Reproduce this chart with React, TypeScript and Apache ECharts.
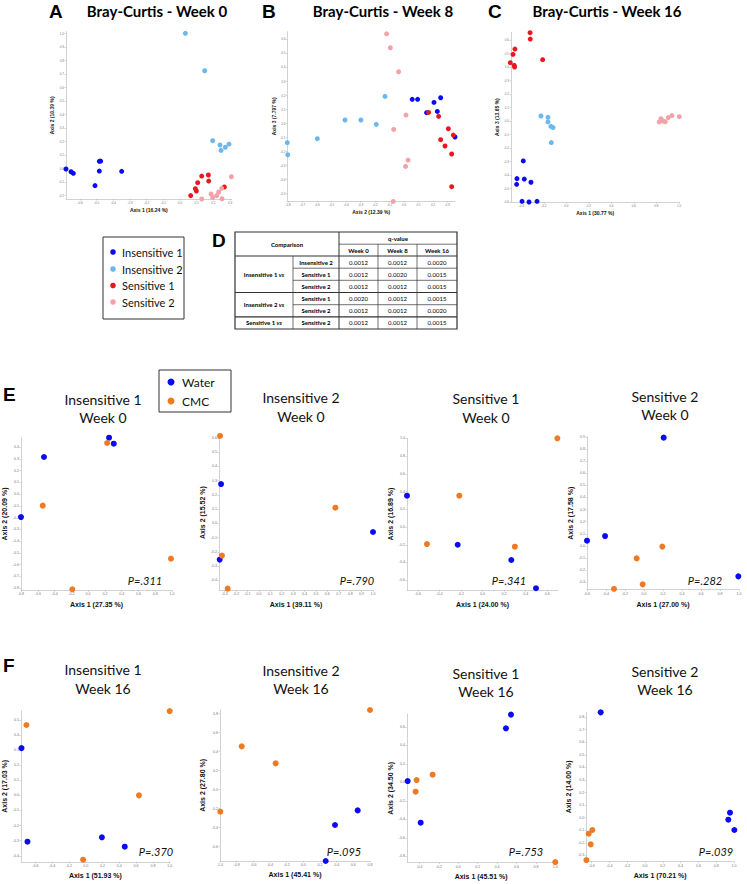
import React, { useEffect, useRef } from "react";
import * as echarts from "echarts";

// ---------- Data: panel A (Bray-Curtis Week 0) ----------
const aIns1 = [[-0.684, -0.005], [-0.654, -0.025], [-0.64, -0.037], [-0.484, 0.052], [-0.476, 0.054], [-0.484, -0.02], [-0.35, -0.022], [-0.51, -0.128]];
const aIns2 = [[0.032, 1.0], [0.148, 0.723], [0.196, 0.205], [0.24, 0.173], [0.246, 0.133], [0.272, 0.156], [0.294, 0.18]];
const aSen1 = [[0.064, -0.202], [0.092, -0.151], [0.098, -0.168], [0.106, -0.106], [0.13, -0.057], [0.17, -0.049], [0.172, -0.094], [0.266, -0.138]];
const aSen2 = [[0.13, -0.227], [0.186, -0.19], [0.196, -0.215], [0.22, -0.202], [0.232, -0.175], [0.25, -0.148], [0.252, -0.225], [0.308, -0.062]];
// ---------- Panel B (Week 8) ----------
const bIns1 = [[0.057, 0.171], [0.094, 0.171], [0.207, 0.149], [0.253, 0.182], [0.23, 0.085], [0.156, 0.076], [0.352, -0.097]];
const bIns2 = [[-0.131, 0.192], [-0.407, 0.024], [-0.297, 0.024], [-0.191, -0.007], [-0.598, -0.109], [-0.805, -0.137], [-0.802, -0.223]];
const bSen1 = [[0.17, 0.078], [0.239, 0.05], [0.306, -0.038], [0.34, -0.083], [0.253, -0.116], [0.283, -0.161], [0.329, -0.218], [0.329, -0.45]];
const bSen2 = [[-0.12, 0.637], [-0.094, 0.538], [-0.037, 0.367], [0.014, 0.059], [-0.071, -0.043], [0.028, -0.261], [0.011, -0.306], [-0.074, -0.555]];
// ---------- Panel C (Week 16) ----------
const cIns1 = [[-0.382, -0.296], [-0.438, -0.427], [-0.373, -0.43], [-0.441, -0.469], [-0.314, -0.454], [-0.393, -0.595], [-0.331, -0.6], [-0.26, -0.595]];
const cIns2 = [[-0.225, 0.037], [-0.163, 0.027], [-0.163, -0.007], [-0.136, -0.04], [-0.118, -0.049], [-0.133, -0.16]];
const cSen1 = [[-0.322, 0.654], [-0.32, 0.607], [-0.456, 0.533], [-0.473, 0.494], [-0.497, 0.432], [-0.462, 0.412], [-0.459, 0.4], [-0.21, 0.454]];
const cSen2 = [[0.825, -0.007], [0.84, 0.017], [0.858, 0.0], [0.879, -0.005], [0.905, 0.025], [0.938, 0.04], [1.003, 0.032]];
// ---------- Panel E (Week 0, Water vs CMC) ----------
const e1Water = [[-0.8, -0.196], [-0.526, 0.315], [0.25, 0.479], [0.306, 0.428]];
const e1Cmc = [[0.227, 0.434], [-0.541, -0.099], [0.988, -0.55], [-0.188, -0.811]];
const e2Water = [[-0.332, 0.276], [-0.344, -0.255], [1.0, -0.061]];
const e2Cmc = [[-0.341, 0.614], [-0.324, -0.227], [-0.274, -0.459], [0.67, 0.11]];
const e3Water = [[-0.7, 0.353], [-0.23, -0.2], [0.267, -0.372], [0.496, -0.69]];
const e3Cmc = [[-0.215, 0.353], [-0.515, -0.192], [0.3, -0.222], [0.694, 1.0]];
const e4Water = [[0.207, 0.893], [-0.6, 0.044], [-0.41, 0.082], [0.993, -0.25]];
const e4Cmc = [[0.193, -0.005], [-0.077, -0.102], [-0.014, -0.316], [-0.316, -0.354]];
// ---------- Panel F (Week 16, Water vs CMC) ----------
const f1Water = [[-0.764, 0.313], [-0.693, -0.307], [0.193, -0.278], [0.465, -0.34]];
const f1Cmc = [[1.0, 0.558], [-0.705, 0.466], [0.634, 0.0], [-0.031, -0.426]];
const f2Water = [[0.268, -0.751], [0.38, -0.372], [0.652, -0.218]];
const f2Cmc = [[-0.996, -0.232], [-0.74, 0.456], [-0.332, 0.277], [0.8, 0.839]];
const f3Water = [[0.543, 0.733], [0.491, 0.585], [-0.522, 0.014], [-0.388, -0.437]];
const f3Cmc = [[-0.265, 0.083], [-0.43, 0.025], [-0.44, -0.101], [1.0, -0.863]];
const f4Water = [[-0.498, 0.838], [0.955, 0.04], [0.936, -0.016], [1.004, -0.098]];
const f4Cmc = [[-0.592, -0.098], [-0.633, -0.127], [-0.61, -0.212], [-0.659, -0.337]];

// ---------- Texts ----------
const groupNames = ["Insensitive 1", "Insensitive 2", "Sensitive 1", "Sensitive 2"];
const dietNames = ["Water", "CMC"];
const panelLetters = ["A", "B", "C", "D", "E", "F"];
const topTitles = ["Bray-Curtis - Week 0", "Bray-Curtis - Week 8", "Bray-Curtis - Week 16"];
const topXNames = ["Axis 1 (16.24 %)", "Axis 2 (12.39 %)", "Axis 1 (30.77 %)"];
const topYNames = ["Axis 2 (10.39 %)", "Axis 3 (7.797 %)", "Axis 3 (13.65 %)"];
const eTitles = ["Insensitive 1", "Insensitive 2", "Sensitive 1", "Sensitive 2"];
const eWeek = "Week 0";
const fWeek = "Week 16";
const eXNames = ["Axis 1 (27.35 %)", "Axis 1 (39.11 %)", "Axis 1 (24.00 %)", "Axis 1 (27.00 %)"];
const eYNames = ["Axis 2 (20.09 %)", "Axis 2 (15.52 %)", "Axis 2 (16.89 %)", "Axis 2 (17.58 %)"];
const ePValues = ["P=.311", "P=.790", "P=.341", "P=.282"];
const fXNames = ["Axis 1 (51.93 %)", "Axis 1 (45.41 %)", "Axis 1 (45.51 %)", "Axis 1 (70.21 %)"];
const fYNames = ["Axis 2 (17.03 %)", "Axis 2 (27.80 %)", "Axis 2 (34.50 %)", "Axis 2 (14.00 %)"];
const fPValues = ["P=.370", "P=.095", "P=.753", "P=.039"];
// ---------- Table D ----------
const tableWeeks = ["Week 0", "Week 8", "Week 16"];
const tableFrom = ["Insensitive 1", "Insensitive 2", "Sensitive 1"];
const tableTo = ["Insensitive 2", "Sensitive 1", "Sensitive 2", "Sensitive 1", "Sensitive 2", "Sensitive 2"];
const qWeek0 = ["0.0012", "0.0012", "0.0012", "0.0020", "0.0012", "0.0012"];
const qWeek8 = ["0.0012", "0.0020", "0.0012", "0.0012", "0.0012", "0.0012"];
const qWeek16 = ["0.0020", "0.0015", "0.0015", "0.0015", "0.0020", "0.0015"];

// ---------- Styles / layout ----------
const GROUP_COLORS = ["#0a0af5", "#6cb8ee", "#e8181e", "#f2a2a8"];
const DIET_COLORS = ["#0a0af5", "#ee7a24"];
const FONT = "Lato, 'Open Sans', sans-serif";
const AX_FONT = "Arial, 'Liberation Sans', sans-serif";

type Lay = { l: number; t: number; r: number; b: number; x: number[]; y: number[]; xGap: number; yGap: number; small: boolean };

const topLayouts: Lay[] = [
  { l: 66, t: 31.7, r: 231.7, b: 199, x: [-0.684, 0.31, 0.1], y: [-0.227, 1.012, 0.1], xGap: 8, yGap: 9, small: true },
  { l: 287.3, t: 31.7, r: 455, b: 201, x: [-0.805, 0.352, 0.1], y: [-0.552, 0.652, 0.1], xGap: 8, yGap: 7, small: true },
  { l: 511, t: 32.3, r: 679.3, b: 202, x: [-0.491, 1.003, 0.2], y: [-0.6, 0.657, 0.1], xGap: 8, yGap: 11, small: true },
];
const eLayouts: Lay[] = [
  { l: 19, t: 437.6, r: 172, b: 590.4, x: [-0.8, 1.0, 0.2], y: [-0.82, 0.48, 0.1], xGap: 11, yGap: 13, small: false },
  { l: 219, t: 435.1, r: 373, b: 590.2, x: [-0.35, 1.0, 0.1], y: [-0.47, 0.62, 0.1], xGap: 11, yGap: 13, small: false },
  { l: 407, t: 438.3, r: 558, b: 590, x: [-0.7, 0.7, 0.2], y: [-0.71, 1.0, 0.2], xGap: 11, yGap: 13, small: false },
  { l: 587, t: 436.8, r: 739, b: 589.7, x: [-0.6, 1.0, 0.2], y: [-0.36, 0.9, 0.1], xGap: 11, yGap: 13, small: false },
];
const fLayouts: Lay[] = [
  { l: 19.8, t: 710.8, r: 169.7, b: 861.8, x: [-0.77, 1.0, 0.2], y: [-0.44, 0.56, 0.1], xGap: 10, yGap: 13, small: false },
  { l: 220, t: 709.9, r: 370, b: 860.9, x: [-1.0, 0.8, 0.2], y: [-0.75, 0.84, 0.2], xGap: 10, yGap: 14, small: false },
  { l: 406.9, t: 714, r: 555.3, b: 862.7, x: [-0.53, 1.0, 0.2], y: [-0.87, 0.74, 0.2], xGap: 10, yGap: 13, small: false },
  { l: 586.3, t: 712.1, r: 734, b: 861.7, x: [-0.66, 1.0, 0.2], y: [-0.35, 0.84, 0.1], xGap: 10, yGap: 14, small: false },
];

function isMult(v: number, step: number) {
  const r = v / step;
  return Math.abs(r - Math.round(r)) < 1e-6;
}

function makeAxis(idx: number, lay: Lay, which: "x" | "y", name: string) {
  const [mn, mx, step] = which === "x" ? lay.x : lay.y;
  return {
    gridIndex: idx,
    type: "value",
    min: mn,
    max: mx,
    splitNumber: Math.round((mx - mn) / step),
    name,
    nameLocation: "middle",
    nameGap: which === "x" ? lay.xGap : lay.yGap,
    nameTextStyle: { fontFamily: AX_FONT, fontWeight: "bold", fontSize: lay.small ? 5 : 7, color: "#111" },
    axisLine: { show: true, onZero: false, lineStyle: { color: "#d2d2d2", width: 1 } },
    axisTick: { show: true, length: 1.5, lineStyle: { color: "#aaa", width: 0.5 } },
    axisLabel: {
      show: true,
      fontSize: lay.small ? 3 : 3.6,
      color: "#777",
      margin: 2,
      fontFamily: AX_FONT,
      showMinLabel: isMult(mn, step),
      showMaxLabel: isMult(mx, step),
      formatter: (v: number) => v.toFixed(1),
    },
    splitLine: { show: false },
  };
}

function txt(x: number, y: number, text: string, size: number, opts: any = {}) {
  return {
    type: "text",
    x,
    y,
    silent: true,
    style: {
      text,
      fontSize: size,
      fontFamily: opts.family || FONT,
      fontWeight: opts.weight || "normal",
      fontStyle: opts.style || "normal",
      fill: opts.color || "#111",
      textAlign: opts.align || "center",
      textVerticalAlign: "middle",
      rich: opts.rich,
    },
  };
}
function ln(x1: number, y1: number, x2: number, y2: number, w: number) {
  return { type: "line", silent: true, shape: { x1, y1, x2, y2 }, style: { stroke: "#333", lineWidth: w } };
}
function dot(cx: number, cy: number, r: number, color: string) {
  return { type: "circle", silent: true, shape: { cx, cy, r }, style: { fill: color } };
}

export default function App() {
  const ref = useRef<HTMLDivElement>(null);
  useEffect(() => {
    if (!ref.current) return;
    const chart = echarts.init(ref.current, undefined, { renderer: "svg" });

    const grids: any[] = [];
    const xAxes: any[] = [];
    const yAxes: any[] = [];
    const series: any[] = [];
    const addPanel = (lay: Lay, xName: string, yName: string, sets: number[][][], colors: string[], size: number) => {
      const idx = grids.length;
      grids.push({ left: lay.l, top: lay.t, width: lay.r - lay.l, height: lay.b - lay.t, containLabel: false });
      xAxes.push(makeAxis(idx, lay, "x", xName));
      yAxes.push(makeAxis(idx, lay, "y", yName));
      sets.forEach((d, k) => {
        series.push({
          type: "scatter",
          xAxisIndex: idx,
          yAxisIndex: idx,
          data: d,
          symbolSize: size,
          clip: false,
          silent: true,
          itemStyle: { color: colors[k], opacity: 1 },
        });
      });
    };

    const topSets = [
      [aIns1, aIns2, aSen1, aSen2],
      [bIns1, bIns2, bSen1, bSen2],
      [cIns1, cIns2, cSen1, cSen2],
    ];
    topLayouts.forEach((lay, i) => addPanel(lay, topXNames[i], topYNames[i], topSets[i], GROUP_COLORS, 5));
    const eSets = [[e1Water, e1Cmc], [e2Water, e2Cmc], [e3Water, e3Cmc], [e4Water, e4Cmc]];
    eLayouts.forEach((lay, i) => addPanel(lay, eXNames[i], eYNames[i], eSets[i], DIET_COLORS, 6));
    const fSets = [[f1Water, f1Cmc], [f2Water, f2Cmc], [f3Water, f3Cmc], [f4Water, f4Cmc]];
    fLayouts.forEach((lay, i) => addPanel(lay, fXNames[i], fYNames[i], fSets[i], DIET_COLORS, 6));

    const g: any[] = [];
    // panel letters
    const letterPos = [[49, 11], [262, 11], [488, 11], [212, 240], [3, 394], [3, 665]];
    panelLetters.forEach((L, i) =>
      g.push(txt(letterPos[i][0], letterPos[i][1], L, 19, { family: AX_FONT, weight: "bold", align: "left", color: "#000" }))
    );
    // top titles
    const topCenters = [157, 383, 607];
    topTitles.forEach((t, i) => g.push(txt(topCenters[i], 11, t, 15, { weight: "bold", color: "#000" })));

    // group legend
    g.push({ type: "rect", silent: true, shape: { x: 103, y: 237, width: 81, height: 82 }, style: { fill: "#fff", stroke: "#333", lineWidth: 1 } });
    const legY = [252, 269, 285.5, 302];
    groupNames.forEach((n, i) => {
      g.push(dot(113, legY[i], 2.8, GROUP_COLORS[i]));
      g.push(txt(122, legY[i], n, 11, { align: "left" }));
    });

    // table D
    const cols = [235, 293, 339, 378, 417, 457];
    const rowsY = [256, 268.2, 280.3, 292.5, 304.7, 316.8, 329];
    g.push({ type: "rect", silent: true, shape: { x: 235, y: 232, width: 222, height: 97 }, style: { fill: "none", stroke: "#333", lineWidth: 1.2 } });
    g.push(ln(235, 256, 457, 256, 1.2));
    g.push(ln(339, 244.2, 457, 244.2, 0.7));
    g.push(ln(339, 232, 339, 329, 1));
    g.push(ln(378, 244.2, 378, 329, 0.7));
    g.push(ln(417, 244.2, 417, 329, 0.7));
    g.push(ln(293, 256, 293, 329, 0.7));
    g.push(ln(235, rowsY[3], 457, rowsY[3], 1.2));
    g.push(ln(235, rowsY[5], 457, rowsY[5], 1.2));
    [1, 2, 4].forEach((r) => g.push(ln(293, rowsY[r], 457, rowsY[r], 0.7)));
    g.push(txt(287, 244, "Comparison", 6, { weight: "bold", color: "#000" }));
    g.push(txt(398, 238.1, "q-value", 6, { weight: "bold", color: "#000" }));
    tableWeeks.forEach((w, i) => g.push(txt((cols[i + 2] + cols[i + 3]) / 2, 250.1, w, 6, { weight: "bold", color: "#000" })));
    const groupSpans = [[0, 3], [3, 5], [5, 6]];
    tableFrom.forEach((n, i) => {
      const [a, b] = groupSpans[i];
      g.push(
        txt((cols[0] + cols[1]) / 2, (rowsY[a] + rowsY[b]) / 2, `{b|${n} }{i|vs}`, 6, {
          weight: "bold",
          rich: {
            b: { fontSize: 6, fontWeight: "bold", fontFamily: FONT, fill: "#000" },
            i: { fontSize: 6, fontWeight: "bold", fontStyle: "italic", fontFamily: FONT, fill: "#000" },
          },
        })
      );
    });
    const qCols = [qWeek0, qWeek8, qWeek16];
    tableTo.forEach((n, r) => {
      const cy = (rowsY[r] + rowsY[r + 1]) / 2;
      g.push(txt((cols[1] + cols[2]) / 2, cy, n, 6, { weight: "bold", color: "#000" }));
      qCols.forEach((q, c) => g.push(txt((cols[c + 2] + cols[c + 3]) / 2, cy, q[r], 6, { color: "#000" })));
    });

    // diet legend
    g.push({ type: "rect", silent: true, shape: { x: 159, y: 370, width: 72, height: 42 }, style: { fill: "#fff", stroke: "#333", lineWidth: 1 } });
    const dietY = [382, 401];
    dietNames.forEach((n, i) => {
      g.push(dot(171, dietY[i], 3.5, DIET_COLORS[i]));
      g.push(txt(182, dietY[i], n, 12, { align: "left" }));
    });

    // E & F titles and P-values
    const titleX = [103, 301, 486, 665];
    const eTitleY = [[399, 417], [397, 416], [398, 417], [396, 414]];
    const fTitleY = [[669, 688], [670, 688], [673, 691], [671, 689]];
    eTitles.forEach((t, i) => {
      g.push(txt(titleX[i], eTitleY[i][0], t, 14));
      g.push(txt(titleX[i], eTitleY[i][1], eWeek, 14));
      g.push(txt(titleX[i], fTitleY[i][0], t, 14));
      g.push(txt(titleX[i], fTitleY[i][1], fWeek, 14));
    });
    const ePX = [145, 357, 509, 705];
    const fPX = [156, 344, 526, 716];
    ePValues.forEach((p, i) => g.push(txt(ePX[i], 580, p, 11, { style: "italic" })));
    fPValues.forEach((p, i) => g.push(txt(fPX[i], 851, p, 11, { style: "italic" })));

    chart.setOption({
      animation: false,
      backgroundColor: "#fff",
      grid: grids,
      xAxis: xAxes,
      yAxis: yAxes,
      series,
      graphic: { elements: g },
    });
    return () => chart.dispose();
  }, []);

  return <div ref={ref} style={{ position: "absolute", left: 0, top: 0, width: 747, height: 884, background: "#fff" }} />;
}
